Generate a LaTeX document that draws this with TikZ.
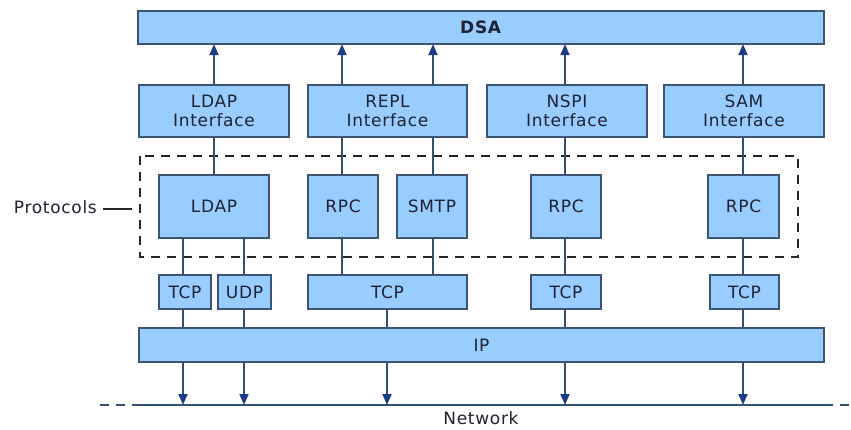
\documentclass[tikz,border=0pt]{standalone}
\usepackage{fontspec}
\setmainfont{DejaVu Sans}[LetterSpace=4]
\usetikzlibrary{arrows.meta}
\definecolor{boxfill}{HTML}{99CCFF}
\definecolor{boxline}{HTML}{3B5573}
\definecolor{wire}{HTML}{34506F}
\definecolor{tipcol}{HTML}{1B3C86}
\definecolor{txt}{HTML}{1E2233}
\tikzset{
  blk/.style={draw=boxline, line width=1.3pt, fill=boxfill, inner sep=0pt,
    text=txt, font=\fontsize{17}{19}\selectfont, align=center},
  wireline/.style={draw=wire, line width=2pt},
  up/.style={wireline, -{Triangle[width=9pt,length=11pt,color=tipcol]}, shorten >=-0.5pt},
  down/.style={wireline, -{Triangle[width=9pt,length=11pt,color=tipcol]}},
  protodash/.style={draw=black!85, line width=1.2pt, dash pattern=on 9pt off 7pt},
}
\newcommand{\blkbox}[6]{% name, x1, y1, x2, y2, text
  \node[blk, minimum width={(#4-#2)*1pt}, minimum height={(#5-#3)*1pt}]
    (#1) at ({(#2+#4)/2},{(#3+#5)/2}) {#6};}
\begin{document}
\begin{tikzpicture}[x=1pt,y=-1pt]
  \useasboundingbox[fill=white] (0,0) rectangle (851,430);

  % column positions of the connectors
  \coordinate (cA) at (183,0);
  \coordinate (cB) at (244,0);
  \coordinate (cC) at (342,0);
  \coordinate (cD) at (433,0);
  \coordinate (cE) at (387,0);
  \coordinate (cF) at (565,0);
  \coordinate (cG) at (743,0);
  \coordinate (cL) at (214,0);

  % protocols frame
  \draw[protodash] (140,156) rectangle (798,257);

  % layers
  \blkbox{dsa}{138}{11}{824}{44}{\textbf{DSA}}
  \blkbox{ldapi}{139}{85}{289}{137}{LDAP\\Interface}
  \blkbox{repli}{308}{85}{467}{137}{REPL\\Interface}
  \blkbox{nspii}{487}{85}{647}{137}{NSPI\\Interface}
  \blkbox{sami}{664}{85}{824}{137}{SAM\\Interface}

  \blkbox{ldapp}{159}{175}{269}{238}{LDAP}
  \blkbox{rpcr}{308}{175}{378}{238}{RPC}
  \blkbox{smtp}{397}{175}{467}{238}{SMTP}
  \blkbox{rpcn}{531}{175}{601}{238}{RPC}
  \blkbox{rpcs}{708}{175}{779}{238}{RPC}

  \blkbox{tcpl}{159}{275}{211}{309}{TCP}
  \blkbox{udp}{218}{275}{271}{309}{UDP}
  \blkbox{tcpr}{308}{275}{467}{309}{TCP}
  \blkbox{tcpn}{531}{275}{601}{309}{TCP}
  \blkbox{tcps}{710}{275}{779}{309}{TCP}

  \blkbox{ip}{139}{328}{824}{362}{IP}

  % network line
  \coordinate (netL) at (139,405);
  \coordinate (netR) at (824,405);
  \coordinate (netLd) at (100,405);
  \coordinate (netRd) at (851,405);
  \draw[wire, line width=2pt] (netL) -- (netR);
  \draw[wire, line width=2pt, dash pattern=on 9pt off 7pt] (netLd) -- (netL);
  \draw[wire, line width=2pt, dash pattern=on 9pt off 7pt] (netR) -- (netRd);
  \node[text=txt, font=\fontsize{17}{19}\selectfont] (net) at (481,418) {Network};

  % label for the protocols frame
  \node[text=txt, font=\fontsize{17}{19}\selectfont, anchor=east, inner sep=0pt] (proto) at (97,207) {Protocols};
  \coordinate (protoEnd) at (132,209);
  \draw[black!85, line width=1.2pt] (proto.east |- protoEnd) ++(6,0) -- (protoEnd);

  % interfaces up to the DSA
  \draw[up] (ldapi.north -| cL) -- (dsa.south -| cL);
  \draw[up] (repli.north -| cC) -- (dsa.south -| cC);
  \draw[up] (repli.north -| cD) -- (dsa.south -| cD);
  \draw[up] (nspii.north -| cF) -- (dsa.south -| cF);
  \draw[up] (sami.north -| cG) -- (dsa.south -| cG);

  % protocols to interfaces
  \draw[wireline] (ldapp.north -| cL) -- (ldapi.south -| cL);
  \draw[wireline] (rpcr.north -| cC) -- (repli.south -| cC);
  \draw[wireline] (smtp.north -| cD) -- (repli.south -| cD);
  \draw[wireline] (rpcn.north -| cF) -- (nspii.south -| cF);
  \draw[wireline] (rpcs.north -| cG) -- (sami.south -| cG);

  % protocols to transports
  \draw[wireline] (ldapp.south -| cA) -- (tcpl.north -| cA);
  \draw[wireline] (ldapp.south -| cB) -- (udp.north -| cB);
  \draw[wireline] (rpcr.south -| cC) -- (tcpr.north -| cC);
  \draw[wireline] (smtp.south -| cD) -- (tcpr.north -| cD);
  \draw[wireline] (rpcn.south -| cF) -- (tcpn.north -| cF);
  \draw[wireline] (rpcs.south -| cG) -- (tcps.north -| cG);

  % transports to IP
  \draw[wireline] (tcpl.south -| cA) -- (ip.north -| cA);
  \draw[wireline] (udp.south -| cB) -- (ip.north -| cB);
  \draw[wireline] (tcpr.south -| cE) -- (ip.north -| cE);
  \draw[wireline] (tcpn.south -| cF) -- (ip.north -| cF);
  \draw[wireline] (tcps.south -| cG) -- (ip.north -| cG);

  % IP down to the network
  \draw[down] (ip.south -| cA) -- (netL -| cA);
  \draw[down] (ip.south -| cB) -- (netL -| cB);
  \draw[down] (ip.south -| cE) -- (netL -| cE);
  \draw[down] (ip.south -| cF) -- (netL -| cF);
  \draw[down] (ip.south -| cG) -- (netL -| cG);
\end{tikzpicture}
\end{document}
